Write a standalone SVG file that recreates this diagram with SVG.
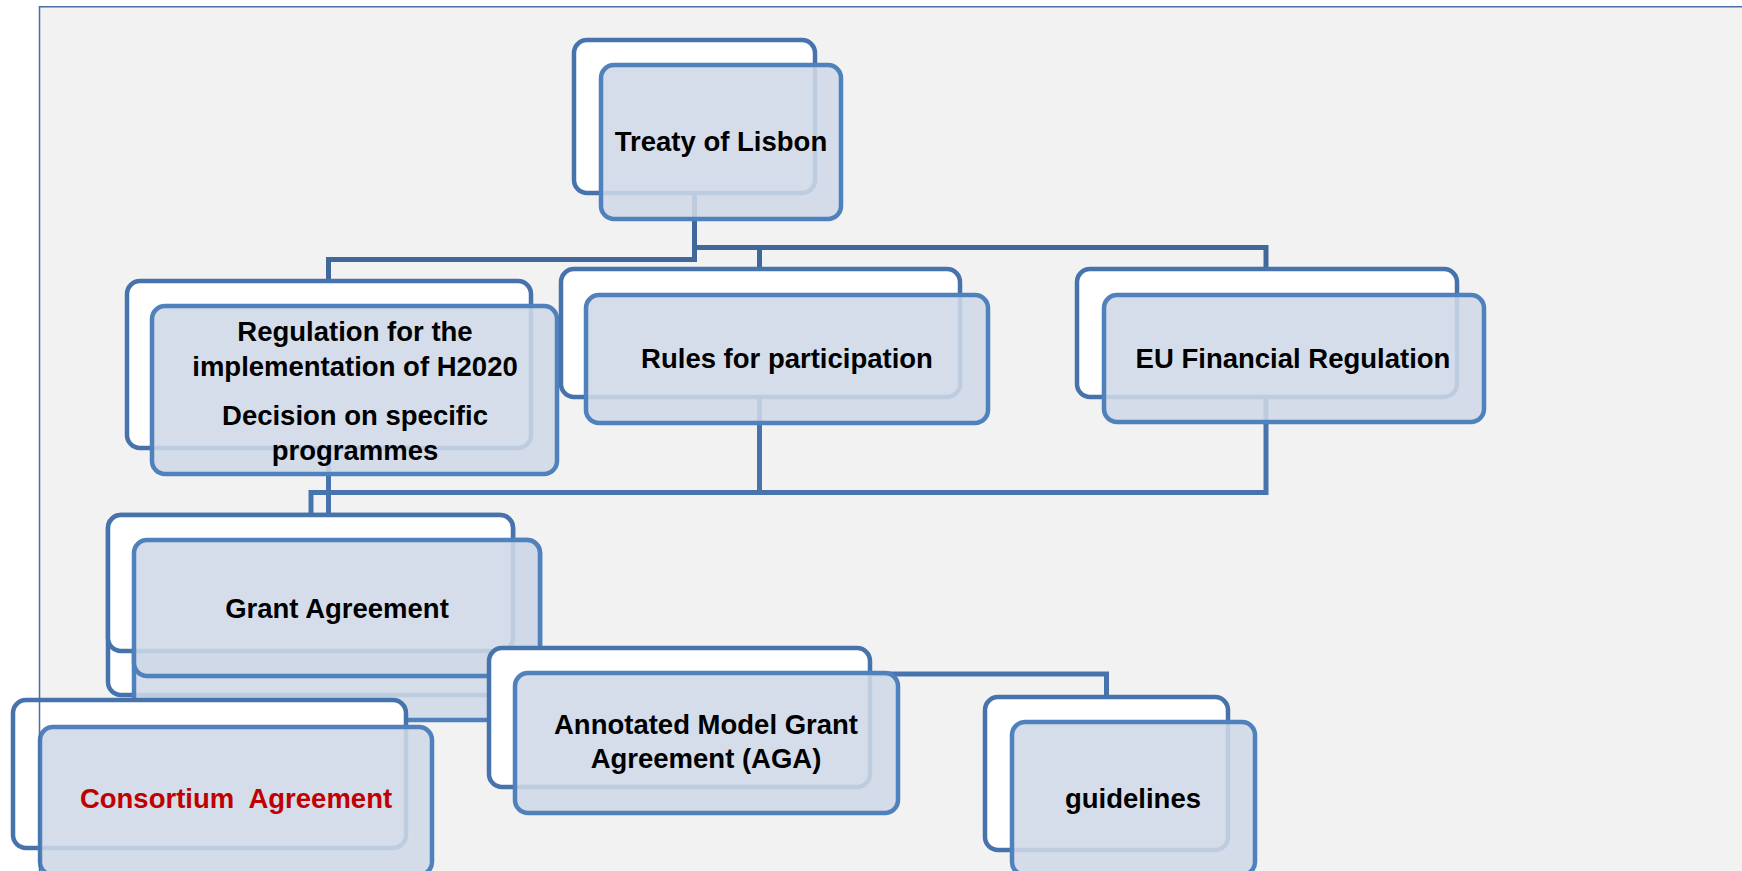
<svg xmlns="http://www.w3.org/2000/svg" width="1742" height="871" viewBox="0 0 1742 871">
<style>
.back{fill:#ffffff;stroke:#4673ab;stroke-width:4.5}
.front{fill:#cfd8e7;fill-opacity:0.88;stroke:#4f81bd;stroke-width:4.5}
.lbl{font-family:"Liberation Sans",Arial,sans-serif;font-weight:bold;font-size:27.5px;fill:#000000;text-anchor:middle}
.red{fill:#c00000}
.c1{fill:none;stroke:#41689b;stroke-width:5}
.c2{fill:none;stroke:#4874ad;stroke-width:5}
.frame{fill:none;stroke:#4a6fa5;stroke-width:1.5}
</style>
<rect x="0" y="0" width="1742" height="871" fill="#ffffff"/>
<rect x="39.5" y="6.75" width="1800" height="1000" fill="#f2f2f2"/>
<g id="connectors">
<path class="c1" d="M694.5,193 V259.5 H328.5 V281"/>
<path class="c1" d="M694.5,193 V247.5 H1266 V269"/>
<path class="c1" d="M759.5,247.5 V269"/>
<path class="c2" d="M328.5,448 V515"/>
<path class="c2" d="M759.5,397 V492.5"/>
<path class="c2" d="M1266,397 V492.5 H311 V515"/>
<path class="c2" d="M700,674 H1106.5 V697"/>
</g>
<g id="treaty">
<rect class="back" x="574" y="40" width="241" height="153" rx="13"/>
<rect class="front" x="601" y="65" width="240" height="154" rx="13"/>
<text class="lbl" x="721" y="151">Treaty of Lisbon</text>
</g>
<g id="regulation">
<rect class="back" x="127" y="281" width="404" height="167" rx="13"/>
<rect class="front" x="152" y="306" width="405" height="168" rx="13"/>
<text class="lbl" x="355" y="341">Regulation for the</text>
<text class="lbl" x="355" y="376">implementation of H2020</text>
<text class="lbl" x="355" y="425">Decision on specific</text>
<text class="lbl" x="355" y="460">programmes</text>
</g>
<g id="rules">
<rect class="back" x="561" y="269" width="399" height="128" rx="13"/>
<rect class="front" x="586" y="295" width="402" height="128" rx="13"/>
<text class="lbl" x="787" y="368">Rules for participation</text>
</g>
<g id="eu-financial">
<rect class="back" x="1077" y="269" width="380" height="128" rx="13"/>
<rect class="front" x="1104" y="295" width="380" height="127" rx="13"/>
<text class="lbl" x="1293" y="368">EU Financial Regulation</text>
</g>
<g id="grant-shadow">
<rect class="back" x="108" y="515" width="405" height="180" rx="13"/>
<rect class="front" x="134" y="540" width="406" height="180" rx="13"/>
</g>
<g id="grant">
<rect class="back" x="108" y="515" width="405" height="136" rx="13"/>
<rect class="front" x="134" y="540" width="406" height="136" rx="13"/>
<text class="lbl" x="337" y="618">Grant Agreement</text>
</g>
<g id="aga">
<rect class="back" x="489" y="648" width="381" height="139" rx="13"/>
<rect class="front" x="515" y="673" width="383" height="140" rx="13"/>
<text class="lbl" x="706" y="734">Annotated Model Grant</text>
<text class="lbl" x="706" y="768">Agreement (AGA)</text>
</g>
<g id="consortium">
<rect class="back" x="13" y="700" width="393" height="148" rx="13"/>
<rect class="front" x="40" y="727" width="392" height="148" rx="13"/>
<text class="lbl red" x="236" y="808" xml:space="preserve">Consortium  Agreement</text>
</g>
<g id="guidelines">
<rect class="back" x="985" y="697" width="243" height="153" rx="13"/>
<rect class="front" x="1012" y="722" width="243" height="153" rx="13"/>
<text class="lbl" x="1133" y="808">guidelines</text>
</g>
<path class="frame" d="M1742,6.75 H39.5 V871"/>
</svg>
